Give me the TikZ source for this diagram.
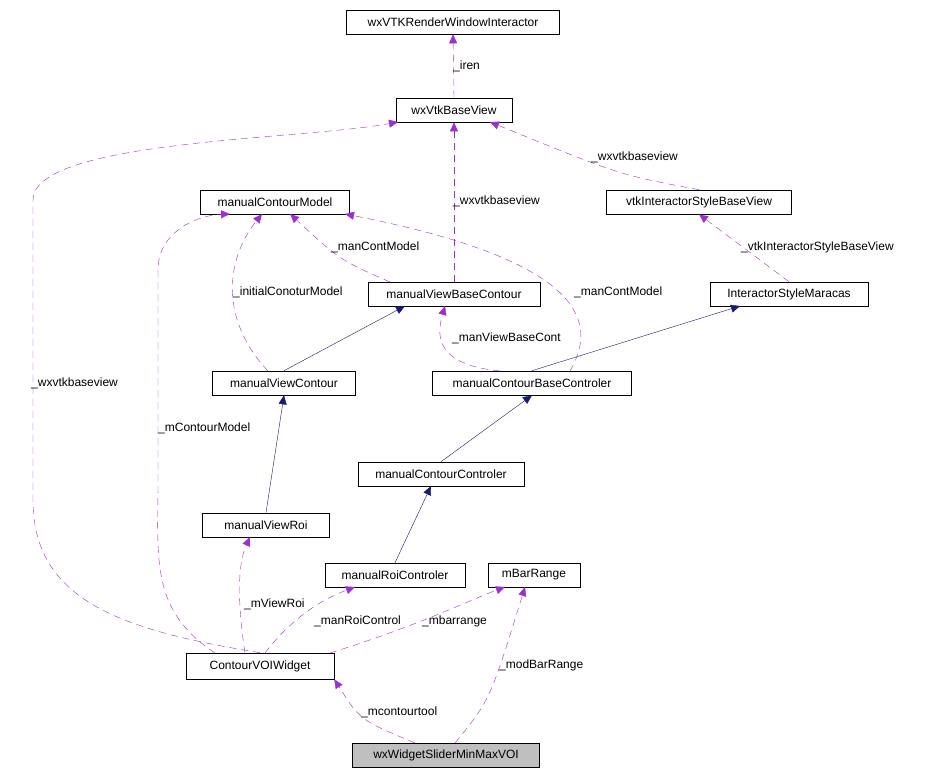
\documentclass[tikz,border=0pt]{standalone}
\usepackage{fontspec}
\setmainfont{Liberation Sans}
\usetikzlibrary{arrows.meta}
\begin{document}
\begin{tikzpicture}[x=1pt,y=-1pt,
 box/.style={draw,semithick,minimum height=24pt,inner xsep=4pt,font=\fontsize{12}{14}\selectfont,anchor=center},
 inh/.style={draw={rgb,255:red,25;green,25;blue,112},-{Triangle[length=9pt,width=8pt]}},
 use/.style={draw={rgb,255:red,153;green,50;blue,204},dashed,dash pattern=on 7pt off 5pt,-{Triangle[length=9pt,width=8pt]}},
 lab/.style={font=\fontsize{12}{14}\selectfont,inner sep=1pt,anchor=west}]
\useasboundingbox (0,0) rectangle (939,778);
\node[box,minimum width=213pt] (rwi) at (453,22) {wxVTKRenderWindowInteractor};
\node[box,minimum width=116pt] (bv) at (454,110) {wxVtkBaseView};
\node[box,minimum width=149pt] (mcm) at (275,202) {manualContourModel};
\node[box,minimum width=185pt] (isbv) at (699,202) {vtkInteractorStyleBaseView};
\node[box,minimum width=172pt] (mvbc) at (454,294) {manualViewBaseContour};
\node[box,minimum width=158pt] (ism) at (789,294) {InteractorStyleMaracas};
\node[box,minimum width=143pt] (mvc) at (284,383) {manualViewContour};
\node[box,minimum width=199pt] (mcbc) at (532,383) {manualContourBaseControler};
\node[box,minimum width=166pt] (mcc) at (441,474) {manualContourControler};
\node[box,minimum width=127pt] (mvr) at (266,525) {manualViewRoi};
\node[box,minimum width=140pt] (mrc) at (395,575) {manualRoiControler};
\node[box,minimum width=92pt] (mbr) at (534,575) {mBarRange};
\node[box,minimum width=148pt,minimum height=26pt] (cvw) at (260,666) {ContourVOIWidget};
\node[box,minimum width=187pt,fill={rgb,255:red,191;green,191;blue,191}] (ws) at (446,755) {wxWidgetSliderMinMaxVOI};
% inheritance
\draw[inh] (mvc.north) -- (405,306);
\draw[inh] (mcbc.north) -- (740,306);
\draw[inh] (mcc.north) -- (mcbc.south);
\draw[inh] (mvr.north) -- (mvc.south);
\draw[inh] (mrc.north) -- (431,486);
% usage
\draw[use] (bv.north) -- (rwi.south);
\draw[use] (isbv.north) .. controls (620,175) .. (490,122);
\draw[use] (mvbc.north) -- (bv.south);
\draw[use] (390,282) .. controls (340,260) .. (290,214);
\draw[use] (268,371) .. controls (220,320) and (225,260) .. (262,214);
\draw[use] (570,371) .. controls (600,320) and (580,260) .. (345,214);
\draw[use] (500,371) .. controls (440,365) and (435,340) .. (445,306);
\draw[use] (ism.north) -- (isbv.south);
\draw[use] (cvw.north) .. controls (120,630) and (33,600) .. (33,500) -- (33,200) .. controls (33,140) and (300,140) .. (398,122);
\draw[use] (215,653) .. controls (150,610) and (158,560) .. (158,480) -- (158,270) .. controls (158,230) and (200,215) .. (230,214);
\draw[use] (245,653) .. controls (240,620) and (235,570) .. (250,537);
\draw[use] (265,653) .. controls (290,620) and (320,600) .. (355,587);
\draw[use] (330,653) .. controls (420,625) and (470,600) .. (505,587);
\draw[use] (415,743) .. controls (360,720) .. (cvw.south east);
\draw[use] (455,743) .. controls (490,700) .. (525,587);
% labels
\node[lab] (l1) at (452,66) {\_iren};
\node[lab] (l2) at (590,157) {\_wxvtkbaseview};
\node[lab] (l3) at (452,201) {\_wxvtkbaseview};
\node[lab] (l4) at (330,247) {\_manContModel};
\node[lab] (l5) at (232,292) {\_initialConoturModel};
\node[lab] (l6) at (573,292) {\_manContModel};
\node[lab] (l7) at (451,338) {\_manViewBaseCont};
\node[lab] (l8) at (740,247) {\_vtkInteractorStyleBaseView};
\node[lab] (l9) at (30,383) {\_wxvtkbaseview};
\node[lab] (l10) at (157,428) {\_mContourModel};
\node[lab] (l11) at (243,604) {\_mViewRoi};
\node[lab] (l12) at (313,621) {\_manRoiControl};
\node[lab] (l13) at (421,621) {\_mbarrange};
\node[lab] (l14) at (498,665) {\_modBarRange};
\node[lab] (l15) at (360,712) {\_mcontourtool};
\end{tikzpicture}
\end{document}
